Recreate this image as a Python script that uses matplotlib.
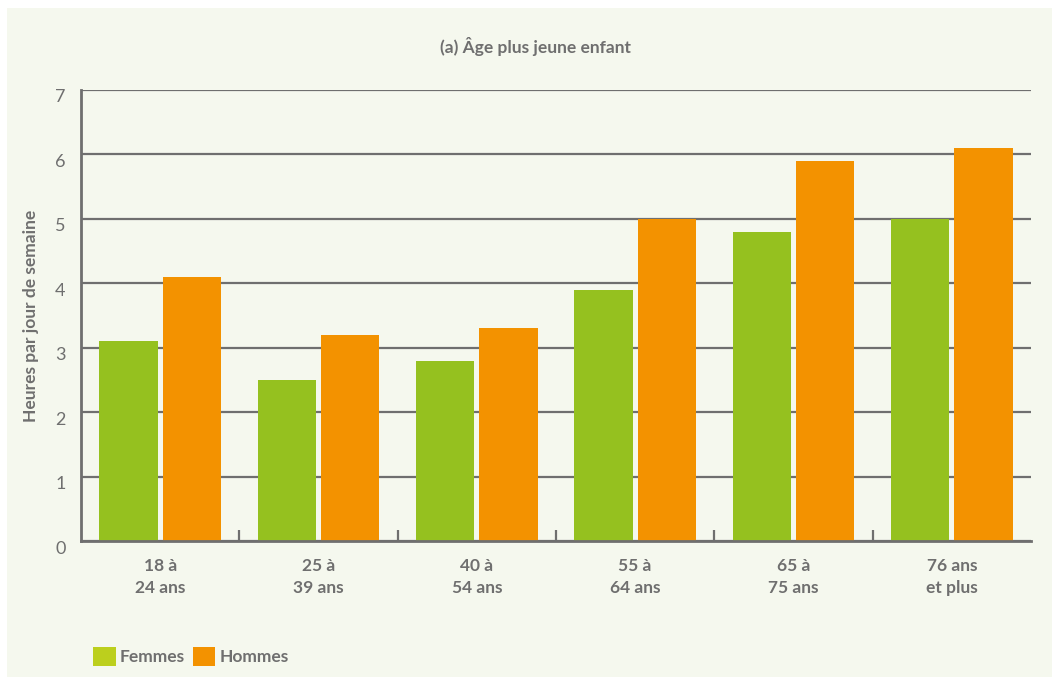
import matplotlib
matplotlib.use('Agg')
import matplotlib.pyplot as plt
import matplotlib.patches as mpatches
import matplotlib.transforms as mtransforms
import numpy as np

categories = ['18 à\n24 ans', '25 à\n39 ans', '40 à\n54 ans', '55 à\n64 ans', '65 à\n75 ans', '76 ans\net plus']
femmes = [3.1, 2.5, 2.8, 3.9, 4.8, 5.0]
hommes = [4.1, 3.2, 3.3, 5.0, 5.9, 6.1]
y_ticks = [0, 1, 2, 3, 4, 5, 6, 7]

GREEN = '#95c11f'
GREEN_LEGEND = '#bccf1d'
ORANGE = '#f39200'
GREY = '#6f6f6f'
PANEL = '#f5f8ee'

plt.rcParams['font.family'] = ['Lato', 'DejaVu Sans']

fig = plt.figure(figsize=(10.52, 6.77), dpi=100, facecolor='white')
fig.patches.append(mpatches.Rectangle((7 / 1052, 0), 1, 1 - 8 / 677, transform=fig.transFigure,
                                      facecolor=PANEL, edgecolor='none', zorder=-10))

ax = fig.add_axes([81 / 1052, 136 / 677, 950 / 1052, 451 / 677])
ax.set_facecolor('none')

x = np.arange(len(categories))
ax.bar(x - 0.2, femmes, width=0.37, color=GREEN, zorder=3)
ax.bar(x + 0.2, hommes, width=0.37, color=ORANGE, zorder=3)

ax.set_xlim(-0.5, len(categories) - 0.5)
ax.set_ylim(0, 7)
ax.set_yticks(y_ticks)
ax.yaxis.grid(True, color=GREY, linewidth=1.6, zorder=1)
ax.set_axisbelow(True)

for side in ('top', 'right'):
    ax.spines[side].set_visible(False)
for side in ('left', 'bottom'):
    ax.spines[side].set_color(GREY)
    ax.spines[side].set_linewidth(2)
    ax.spines[side].set_zorder(4)

ax.set_xticks(x)
ax.set_xticklabels(categories, fontsize=12.5, fontweight='bold', color=GREY, linespacing=1.45)
ax.set_xticks(np.arange(0.5, len(categories) - 0.5), minor=True)
ax.tick_params(axis='x', which='major', length=0, pad=12)
ax.tick_params(axis='x', which='minor', direction='in', length=8, width=1.6, color=GREY)
ax.tick_params(axis='y', length=0, pad=11, labelsize=13, labelcolor=GREY)

offset = mtransforms.ScaledTranslation(0, -6 / 100, fig.dpi_scale_trans)
for lab in ax.get_yticklabels():
    lab.set_transform(lab.get_transform() + offset)

ax.set_ylabel('Heures par jour de semaine', fontsize=12.5, fontweight='bold', color=GREY, labelpad=12)

fig.text(536 / 1052, 1 - 46 / 677, '(a) Âge plus jeune enfant', ha='center', va='center',
         fontsize=12.5, fontweight='bold', color=GREY)

handles = [mpatches.Patch(facecolor=GREEN_LEGEND, edgecolor='none', label='Femmes'),
           mpatches.Patch(facecolor=ORANGE, edgecolor='none', label='Hommes')]
leg = fig.legend(handles=handles, loc='lower left', bbox_to_anchor=(86 / 1052, 4 / 677), ncol=2,
                 frameon=False, handlelength=1.3, handleheight=1.3, handletextpad=0.25,
                 columnspacing=0.45, borderaxespad=0,
                 prop={'size': 12.5, 'weight': 'bold'})
for t in leg.get_texts():
    t.set_color(GREY)

fig.savefig('out.png', dpi=100, facecolor=fig.get_facecolor())
